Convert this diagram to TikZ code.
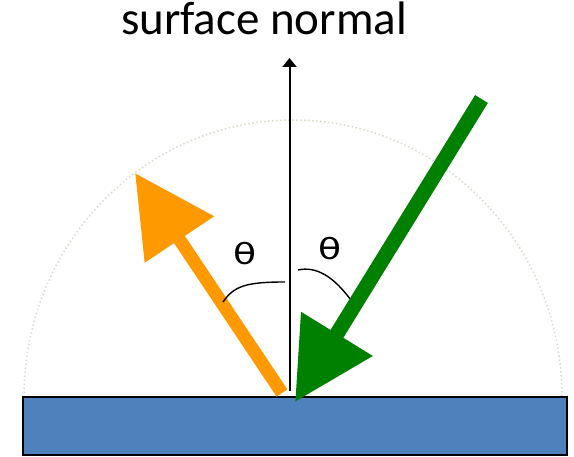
\documentclass[tikz,border=0pt]{standalone}
\usepackage{fontspec}
\setmainfont{Carlito}
\newfontfamily\thetafont{DejaVu Sans}
\usetikzlibrary{arrows.meta}
\definecolor{surfblue}{HTML}{4F81BD}
\definecolor{refl}{HTML}{FF9900}
\definecolor{inc}{HTML}{008000}
\definecolor{dotarc}{HTML}{DCD9C8}
\tikzset{
  bigarrow/.style={line width=#1, -{Triangle[length=80pt,width=80pt]}},
  anglemark/.style={line width=1.4pt, black},
  thetalabel/.style={font=\thetafont\fontsize{29}{34}\selectfont, inner sep=0pt, xscale=1.3, transform shape},
}
\begin{document}
\begin{tikzpicture}[x=1pt,y=1pt]
\useasboundingbox (0,0) rectangle (574,456);
% dotted hemisphere
\draw[dotarc, line width=1.5pt, dash pattern=on 1.5pt off 2.5pt]
  (24,59) arc[start angle=180, end angle=0, x radius=269, y radius=277];
% surface
\node (surface) [draw=black, line width=2pt, fill=surfblue, minimum width=544pt,
  minimum height=58pt, inner sep=0pt] at (295,30) {};
% label
\node (label) [anchor=base, inner sep=0pt, font=\fontsize{47}{52}\selectfont] at (264,421) {surface normal};
% coordinates
\coordinate (nbot) at (289.5,65);
\coordinate (ntop) at (289.5,398);
\coordinate (otail) at (282,63);
\coordinate (ohead) at (135,283);
\coordinate (gtail) at (481.5,357);
\coordinate (ghead) at (295,54);
% normal
\draw[line width=2pt, -{Triangle[length=9pt,width=14pt]}] (nbot) -- (ntop);
% reflected ray
\draw[bigarrow=13pt, refl] (otail) -- (ohead);
% angle marks
\coordinate (la) at (223,154);
\coordinate (lb) at (285,174);
\coordinate (ra) at (298,186);
\coordinate (rb) at (353,153);
\draw[anglemark] (la) .. controls (234,170) and (246,174) .. (lb);
\draw[anglemark] (ra) .. controls (316,190) and (334,180) .. (rb);
\node (thl) [thetalabel] at (245,202) {θ};
\node (thr) [thetalabel] at (330,207) {θ};
% incident ray
\draw[bigarrow=15pt, inc] (gtail) -- (ghead);
\end{tikzpicture}
\end{document}
